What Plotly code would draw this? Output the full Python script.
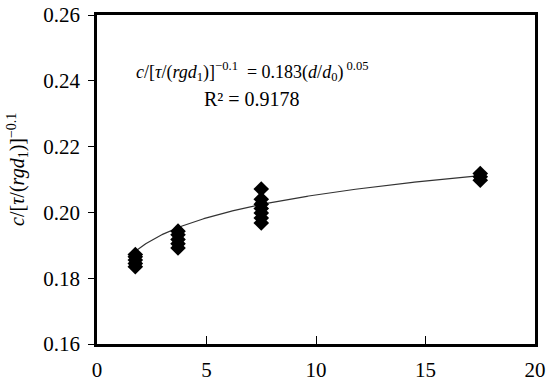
import numpy as np
import plotly.graph_objects as go

# Measured data points (x, y)
x_pts = [1.75, 1.75, 1.75, 1.75, 1.75,
         3.7, 3.7, 3.7, 3.7, 3.7,
         7.5, 7.5, 7.5, 7.5, 7.5, 7.5, 7.5,
         17.5, 17.5, 17.5]
y_pts = [0.1835, 0.1845, 0.1855, 0.1865, 0.1872,
         0.1892, 0.1905, 0.1918, 0.1932, 0.1943,
         0.1968, 0.1983, 0.1998, 0.2012, 0.2025, 0.2040, 0.2071,
         0.2098, 0.2108, 0.2118]

# Power-law trendline coefficients (as shown in the equation)
coef_a = 0.183
coef_b = 0.05
fit_range = [1.75, 17.5]

x_ticks = [0, 5, 10, 15, 20]
y_ticks = [0.16, 0.18, 0.20, 0.22, 0.24, 0.26]

xf = np.linspace(fit_range[0], fit_range[1], 200)
yf = coef_a * xf ** coef_b

font = "Liberation Serif, Times New Roman, serif"

fig = go.Figure()
fig.add_trace(go.Scatter(x=xf, y=yf, mode="lines",
                         line=dict(color="#333333", width=1.2),
                         hoverinfo="skip", showlegend=False))
fig.add_trace(go.Scatter(x=x_pts, y=y_pts, mode="markers",
                         marker=dict(symbol="diamond", size=12, color="black",
                                     line=dict(width=0)),
                         showlegend=False))

fig.update_layout(
    width=550, height=389,
    margin=dict(l=97, r=15, t=15, b=45),
    paper_bgcolor="white", plot_bgcolor="white",
    font=dict(family=font, size=20, color="black"),
    xaxis=dict(range=[0, 20], tickvals=x_ticks, ticks="inside", ticklen=8,
               tickwidth=1, tickcolor="black", showgrid=False, zeroline=False,
               showline=True, linewidth=2.5, linecolor="black", mirror=True,
               tickfont=dict(size=21), automargin=False, ticklabelstandoff=5),
    yaxis=dict(range=[0.16, 0.26], tickvals=y_ticks, tickformat=".2f",
               ticks="outside", ticklen=6, tickwidth=1, tickcolor="black",
               showgrid=False, zeroline=False, showline=True, linewidth=2.5,
               linecolor="black", mirror=True, tickfont=dict(size=21),
               automargin=False, ticklabelstandoff=4),
)

# y-axis title
fig.add_annotation(
    x=-0.182, y=0.53, xref="paper", yref="paper", xanchor="center", yanchor="middle",
    textangle=-90, showarrow=False, font=dict(size=20),
    text="<i>c</i>/[<i>τ</i>/(<i>rgd</i><sub>1</sub>)]<sup>−0.1</sup>",
)

fig.add_annotation(
    x=7.1, y=0.2427, xref="x", yref="y", xanchor="center", yanchor="middle",
    text="<i>c</i>/[<i>τ</i>/(<i>rgd</i><sub>1</sub>)]<sup>−0.1</sup>  = 0.183(<i>d</i>/<i>d</i><sub>0</sub>)<sup> 0.05</sup>",
    showarrow=False, font=dict(size=18),
)
fig.add_annotation(
    x=7.1, y=0.2345, xref="x", yref="y", xanchor="center", yanchor="middle",
    text="R² = 0.9178", showarrow=False, font=dict(size=20),
)

fig.write_html("out.html",
               config={"displayModeBar": False},
               post_script="document.body.style.margin='0';document.body.style.overflow='hidden';")
